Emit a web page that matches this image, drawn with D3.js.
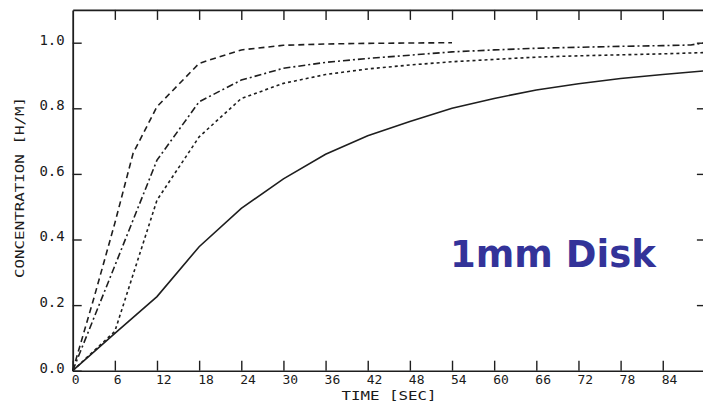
<!DOCTYPE html>
<html>
<head>
<meta charset="utf-8">
<script src="https://cdn.jsdelivr.net/npm/d3@7"></script>
<style>
  html, body { margin: 0; padding: 0; background: #fff; }
  svg { display: block; }
  .tick text { font-family: "DejaVu Sans Mono", monospace; fill: #1a1a1a; }
</style>
</head>
<body>
<svg id="chart" width="703" height="404"></svg>
<script>
// ---- data ----
const xTicks = [0, 6, 12, 18, 24, 30, 36, 42, 48, 54, 60, 66, 72, 78, 84];
const yTicks = [0, 0.2, 0.4, 0.6, 0.8, 1.0];

const timeDashed   = [0, 3, 6, 8.6, 12, 18, 24, 30, 36, 42, 48, 54];
const concDashed   = [0, 0.22, 0.45, 0.663, 0.805, 0.937, 0.978, 0.992, 0.996, 0.998, 0.999, 1.0];

const timeDashDot  = [0, 6, 12, 18, 24, 30, 36, 42, 48, 54, 60, 66, 72, 78, 84, 88, 90];
const concDashDot  = [0, 0.32, 0.642, 0.82, 0.886, 0.922, 0.94, 0.952, 0.962, 0.972, 0.978, 0.983, 0.986, 0.989, 0.991, 0.993, 1.0];

const timeDotted   = [0, 6, 12, 18, 24, 30, 36, 42, 48, 54, 60, 66, 72, 78, 84, 90];
const concDotted   = [0, 0.12, 0.52, 0.713, 0.83, 0.876, 0.903, 0.92, 0.932, 0.942, 0.949, 0.956, 0.96, 0.963, 0.966, 0.97];

const timeSolid    = [0, 6, 12, 18, 24, 30, 36, 42, 48, 54, 60, 66, 72, 78, 84, 90];
const concSolid    = [0, 0.114, 0.226, 0.378, 0.495, 0.585, 0.66, 0.716, 0.76, 0.80, 0.83, 0.856, 0.875, 0.891, 0.903, 0.914];

const xTitle = "TIME [SEC]";
const yTitle = "CONCENTRATION [H/M]";
const note = "1mm Disk";

// ---- layout ----
const svg = d3.select("#chart");
const x = d3.scaleLinear().domain([0, 90]).range([72.7, 704.9]);
const y = d3.scaleLinear().domain([0, 1.1]).range([370.7, 9.9]);
const ink = "#1e1e1e";

// frame / axes
const gB = svg.append("g").attr("transform", `translate(0,${y(0)})`)
  .call(d3.axisBottom(x).tickValues(xTicks).tickSizeInner(-10).tickSizeOuter(0).tickPadding(4.5));
gB.selectAll(".tick text").attr("text-anchor", "start").attr("dx", -1.5).style("font-size", "13px");

const gL = svg.append("g").attr("transform", `translate(${x(0)},0)`)
  .call(d3.axisLeft(y).tickValues(yTicks).tickFormat(d3.format(".1f")).tickSizeInner(-9).tickSizeOuter(0).tickPadding(8));
gL.selectAll(".tick text").attr("dy", "0.1em").style("font-size", "14px");

const gT = svg.append("g").attr("transform", `translate(0,${y(1.1)})`)
  .call(d3.axisTop(x).tickValues(xTicks.slice(1)).tickSizeInner(-10).tickSizeOuter(0).tickFormat(""));

const gR = svg.append("g").attr("transform", `translate(${x(90)},0)`)
  .call(d3.axisRight(y).tickValues(yTicks.slice(1)).tickSizeInner(-8).tickSizeOuter(0).tickFormat(""));

svg.selectAll(".domain").attr("stroke", ink).attr("stroke-width", 1.6);
svg.selectAll(".tick line").attr("stroke", ink).attr("stroke-width", 1.4);
gL.select(".domain").attr("stroke-width", 1.8);

// titles
svg.append("text")
  .attr("x", 389).attr("y", 400)
  .attr("text-anchor", "middle")
  .attr("textLength", 95).attr("lengthAdjust", "spacingAndGlyphs")
  .style("font-family", "DejaVu Sans Mono, monospace").style("font-size", "13px")
  .attr("fill", "#1a1a1a").text(xTitle);

svg.append("text")
  .attr("transform", "translate(23.5,187.5) rotate(-90)")
  .attr("text-anchor", "middle")
  .attr("textLength", 181).attr("lengthAdjust", "spacingAndGlyphs")
  .style("font-family", "DejaVu Sans Mono, monospace").style("font-size", "13px")
  .attr("fill", "#1a1a1a").text(yTitle);

// curves
const line = d3.line().x(d => x(d[0])).y(d => y(d[1])).curve(d3.curveLinear);
const series = [
  { t: timeSolid,   c: concSolid,   dash: null },
  { t: timeDotted,  c: concDotted,  dash: "3,3" },
  { t: timeDashDot, c: concDashDot, dash: "7,3,2,3" },
  { t: timeDashed,  c: concDashed,  dash: "6,4" }
];
svg.append("g").selectAll("path")
  .data(series)
  .join("path")
  .attr("d", s => line(s.t.map((v, i) => [v, s.c[i]])))
  .attr("fill", "none")
  .attr("stroke", ink)
  .attr("stroke-width", 1.6)
  .attr("stroke-dasharray", s => s.dash);

// annotation
svg.append("text")
  .attr("x", 450).attr("y", 266.7)
  .style("font-family", "DejaVu Sans, Verdana, sans-serif")
  .style("font-weight", "bold").style("font-size", "37px")
  .attr("fill", "#333399").text(note);
</script>
</body>
</html>
